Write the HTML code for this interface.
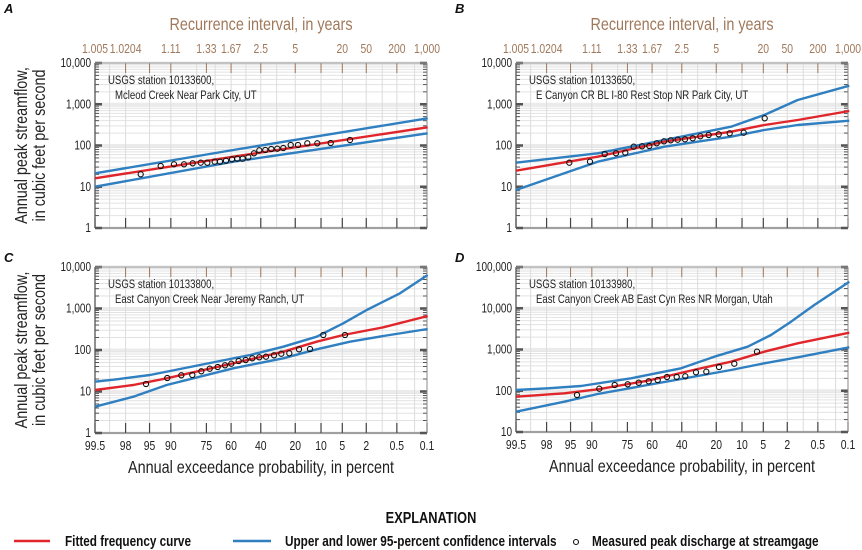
<!DOCTYPE html>
<html><head><meta charset="utf-8"><style>
html,body{margin:0;padding:0;background:#fff;}
svg{display:block;font-family:"Liberation Sans Narrow","Liberation Sans",sans-serif;}
</style></head><body>
<svg id="s" width="862" height="550" viewBox="0 0 862 550" xmlns="http://www.w3.org/2000/svg"></svg>
<script>
function qn(p){
 var a=[-3.969683028665376e+01,2.209460984245205e+02,-2.759285104469687e+02,1.383577518672690e+02,-3.066479806614716e+01,2.506628277459239e+00];
 var b=[-5.447609879822406e+01,1.615858368580409e+02,-1.556989798598866e+02,6.680131188771972e+01,-1.328068155288572e+01];
 var c=[-7.784894002430293e-03,-3.223964580411365e-01,-2.400758277161838e+00,-2.549671010135138e+00,4.374664141464968e+00,2.938163982698783e+00];
 var d=[7.784695709041462e-03,3.224671290700398e-01,2.445134137142996e+00,3.754408661907416e+00];
 var pl=0.02425,q,r;
 if(p<pl){q=Math.sqrt(-2*Math.log(p));return (((((c[0]*q+c[1])*q+c[2])*q+c[3])*q+c[4])*q+c[5])/((((d[0]*q+d[1])*q+d[2])*q+d[3])*q+1);}
 if(p>1-pl){q=Math.sqrt(-2*Math.log(1-p));return -(((((c[0]*q+c[1])*q+c[2])*q+c[3])*q+c[4])*q+c[5])/((((d[0]*q+d[1])*q+d[2])*q+d[3])*q+1);}
 q=p-0.5;r=q*q;return (((((a[0]*r+a[1])*r+a[2])*r+a[3])*r+a[4])*r+a[5])*q/(((((b[0]*r+b[1])*r+b[2])*r+b[3])*r+b[4])*r+1);
}
var o='';
var SX=0.8;
function T(x,y,s,size,anchor,fill,extra,rot){
 var tr='translate('+x+','+y+')'+(rot?' rotate(-90)':'')+' scale('+SX+',1)';
 o+='<text transform="'+tr+'" font-size="'+size+'" text-anchor="'+(anchor||'start')+'" fill="'+(fill||'#222')+'" '+(extra||'')+'>'+s+'</text>';
}
function zx(pe,x0,x1){var z0=qn(0.005),z1=qn(0.999);var z=qn(1-pe/100);return x0+(z-z0)/(z1-z0)*(x1-x0);}
var BR='#a0785a';
function panel(P){
 var x0=P.x0,x1=P.x1,yt=P.yt,yb=P.yb,dec=P.dec,lo=P.lo;
 var pd=(yb-yt)/dec;
 for(var e=0;e<dec;e++){for(var m=2;m<=9;m++){var y=yb-(e+Math.log10(m))*pd;
   o+='<line x1="'+x0+'" x2="'+x1+'" y1="'+y+'" y2="'+y+'" stroke="#e2e2e2" stroke-width="1"/>';
   o+='<line x1="'+x0+'" x2="'+(x0+4)+'" y1="'+y+'" y2="'+y+'" stroke="#555" stroke-width="1"/>';
   o+='<line x1="'+(x1-4)+'" x2="'+x1+'" y1="'+y+'" y2="'+y+'" stroke="#555" stroke-width="1"/>';}}
 for(var e=0;e<=dec;e++){var y=yb-e*pd;
   o+='<line x1="'+x0+'" x2="'+x1+'" y1="'+y+'" y2="'+y+'" stroke="#ebebeb" stroke-width="3"/>';
   o+='<line x1="'+x0+'" x2="'+(x0+7)+'" y1="'+y+'" y2="'+y+'" stroke="#555" stroke-width="2.5"/>';
   o+='<line x1="'+(x1-7)+'" x2="'+x1+'" y1="'+y+'" y2="'+y+'" stroke="#555" stroke-width="2.5"/>';
   var v=Math.pow(10,lo+e);var s=v.toLocaleString('en-US');
   T(x0-4,y+4,s,12.5,'end','#222');}
 var pv=[99.5,99,98,95,90,80,70,60,50,40,30,20,10,5,2,1,0.5,0.2,0.1];
 pv.forEach(function(p){var x=zx(p,x0,x1);
   o+='<line x1="'+x+'" x2="'+x+'" y1="'+yt+'" y2="'+yb+'" stroke="#dcdcdc" stroke-width="1"/>';});
 var pl=[99.5,98,95,90,75,60,40,20,10,5,2,0.5,0.1];
 pl.forEach(function(p){var x=zx(p,x0,x1);
   o+='<line x1="'+x+'" x2="'+x+'" y1="'+(yb-10)+'" y2="'+yb+'" stroke="#444" stroke-width="1.2"/>';
   o+='<line x1="'+x+'" x2="'+x+'" y1="'+yt+'" y2="'+(yt+10)+'" stroke="'+BR+'" stroke-width="1"/>';
   if(P.bot){T(x,yb+17,String(p),13,'middle','#222');}});
 if(P.top){var tl=[['1.005',99.5],['1.0204',98],['1.11',90],['1.33',75],['1.67',60],['2.5',40],['5',20],['20',5],['50',2],['200',0.5],['1,000',0.1]];
   tl.forEach(function(t){var x=zx(t[1],x0,x1);T(x,yt-10,t[0],13,'middle',BR);});
   T((x0+x1)/2,yt-33,'Recurrence interval, in years',18,'middle',BR);}
 if(P.bot){T((x0+x1)/2,yb+40,'Annual exceedance probability, in percent',18,'middle','#222');}
 o+='<line x1="'+x0+'" x2="'+x0+'" y1="'+yt+'" y2="'+yb+'" stroke="#555" stroke-width="1.3"/>';
 o+='<line x1="'+x1+'" x2="'+x1+'" y1="'+yt+'" y2="'+yb+'" stroke="#888" stroke-width="1"/>';
 o+='<line x1="'+x0+'" x2="'+x1+'" y1="'+yb+'" y2="'+yb+'" stroke="#555" stroke-width="1"/>';
 o+='<line x1="'+x0+'" x2="'+x1+'" y1="'+yt+'" y2="'+yt+'" stroke="#999" stroke-width="1"/>';
 T(x0+13,yt+21,'USGS station '+P.st+',',12,'start','#222');
 T(x0+20,yt+36,P.nm,12,'start','#222');
 function pts(a){return a.map(function(q){return (P.ox+q[0]/3).toFixed(1)+','+(P.oy+q[1]/3).toFixed(1);}).join(' ');}
 o+='<polyline points="'+pts(P.up)+'" fill="none" stroke="#2f7fc1" stroke-width="2.4" stroke-linejoin="round"/>';
 o+='<polyline points="'+pts(P.lw)+'" fill="none" stroke="#2f7fc1" stroke-width="2.4" stroke-linejoin="round"/>';
 o+='<polyline points="'+pts(P.rd)+'" fill="none" stroke="#e0262b" stroke-width="2.4" stroke-linejoin="round"/>';
 P.pt.forEach(function(q){o+='<circle cx="'+(P.ox+q[0]/3).toFixed(1)+'" cy="'+(P.oy+q[1]/3).toFixed(1)+'" r="2.6" fill="none" stroke="#111" stroke-width="1.1"/>';});
 o+='<text x="'+P.lx+'" y="'+P.ly+'" font-size="13" font-weight="bold" font-style="italic" fill="#111">'+P.L+'</text>';
 if(P.yl){var cy=(yt+yb)/2;
  T(27,cy,'Annual peak streamflow,',18,'middle','#222','',1);
  T(45,cy,'in cubic feet per second',18,'middle','#222','',1);}
}
panel({L:'A',lx:4,ly:13,x0:95,x1:427,yt:63,yb:228,dec:4,lo:0,top:1,bot:0,yl:1,ox:0,oy:0,st:'10133600',nm:'Mcleod Creek Near Park City, UT',
 rd:[[285,535],[700,470],[1283,382]],up:[[285,520],[700,450],[1283,355]],lw:[[285,560],[700,485],[1283,400]],
 pt:[[422,523],[482,498],[522,493],[552,493],[578,490],[602,488],[622,488],[644,485],[660,485],[678,482],[696,478],[712,476],[728,476],[745,472],[762,460],[778,451],[796,450],[814,447],[832,446],[850,444],[872,435],[894,435],[922,430],[952,430],[992,429],[1050,420]]});
panel({L:'B',lx:455,ly:13,x0:516,x1:848,yt:63,yb:228,dec:4,lo:0,top:1,bot:0,yl:0,ox:431,oy:0,st:'10133650',nm:'E Canyon CR BL I-80 Rest Stop NR Park City, UT',
 rd:[[255,512],[500,470],[700,425],[900,395],[1000,375],[1100,360],[1255,333]],
 up:[[255,488],[500,460],[700,420],[900,380],[1000,345],[1100,300],[1255,257]],
 lw:[[255,570],[400,520],[500,485],[700,440],[900,410],[1000,390],[1100,375],[1255,362]],
 pt:[[415,488],[477,485],[521,462],[555,460],[583,458],[608,440],[633,439],[655,438],[677,430],[699,424],[719,421],[740,419],[762,418],[785,415],[808,409],[833,405],[863,403],[896,400],[938,398],[1001,355]]});
panel({L:'C',lx:4,ly:262,x0:95,x1:427,yt:267,yb:433,dec:4,lo:0,top:0,bot:1,yl:1,ox:0,oy:250,st:'10133800',nm:'East Canyon Creek Near Jeremy Ranch, UT',
 rd:[[285,420],[400,405],[500,385],[700,340],[850,305],[950,275],[1030,255],[1150,232],[1283,198]],
 up:[[285,395],[350,388],[450,375],[600,345],[750,315],[850,290],[950,260],[1030,220],[1100,180],[1200,130],[1283,75]],
 lw:[[285,470],[400,440],[500,405],[700,355],[850,325],[950,298],[1050,275],[1150,258],[1283,237]],
 pt:[[438,402],[502,384],[544,376],[577,375],[604,364],[629,356],[653,351],[675,346],[694,341],[716,333],[737,330],[757,325],[778,322],[798,320],[822,316],[844,311],[868,310],[897,298],[930,297],[970,255],[1035,255]]});
panel({L:'D',lx:455,ly:262,x0:516,x1:848,yt:267,yb:432,dec:4,lo:1,top:0,bot:1,yl:0,ox:431,oy:250,st:'10133980',nm:'East Canyon Creek AB East Cyn Res NR Morgan, Utah',
 rd:[[255,440],[400,430],[500,418],[650,392],[800,357],[900,335],[1000,305],[1100,280],[1255,248]],
 up:[[255,420],[350,415],[450,408],[600,385],[750,355],[850,320],[950,290],[1020,255],[1080,215],[1150,165],[1255,95]],
 lw:[[255,485],[400,455],[500,432],[650,405],[800,378],[900,360],[1000,340],[1100,322],[1255,292]],
 pt:[[438,435],[505,416],[551,405],[590,403],[623,398],[653,394],[680,390],[708,381],[737,381],[763,379],[795,367],[826,365],[864,351],[910,341],[978,305]]});
T(431,523,'EXPLANATION',16,'middle','#111','font-weight="bold"');
o+='<line x1="14" x2="50" y1="541" y2="541" stroke="#e0262b" stroke-width="2.5"/>';
T(65,546,'Fitted frequency curve',14.7,'start','#111','font-weight="bold"');
o+='<line x1="233" x2="271" y1="541" y2="541" stroke="#2f7fc1" stroke-width="2.5"/>';
T(285,546,'Upper and lower 95-percent confidence intervals',14.7,'start','#111','font-weight="bold"');
o+='<circle cx="576" cy="542" r="2.5" fill="none" stroke="#111" stroke-width="1.1"/>';
T(592,546,'Measured peak discharge at streamgage',14.7,'start','#111','font-weight="bold"');
document.getElementById('s').innerHTML=o;
</script>
</body></html>
